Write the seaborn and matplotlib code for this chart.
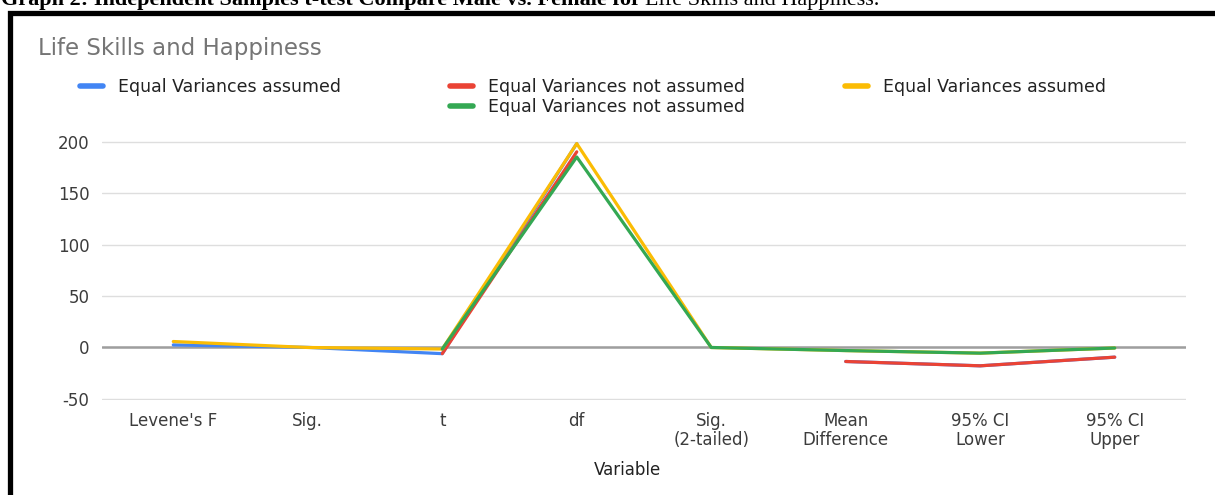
import numpy as np
import pandas as pd
import seaborn as sns
import matplotlib.pyplot as plt
from matplotlib.lines import Line2D
from matplotlib.patches import Rectangle

# columns of the SPSS t-test table
variables = ["Levene's F", "Sig.", "t", "df", "Sig.\n(2-tailed)",
             "Mean\nDifference", "95% CI\nLower", "95% CI\nUpper"]
series_names = ['Equal Variances assumed', 'Equal Variances not assumed',
                'Equal Variances assumed', 'Equal Variances not assumed']
life_eva = [2.5, 0.1, -6.0, 198, np.nan, -13.6, -17.8, -9.4]
life_evna = [np.nan, np.nan, -6.0, 190, np.nan, -13.6, -17.8, -9.4]
happy_eva = [5.8, 0.0, -1.5, 198, 0.0, -3.0, -5.5, -0.5]
happy_evna = [np.nan, np.nan, -1.5, 185, 0.0, -3.0, -5.5, -0.5]
colors = ['#4285F4', '#EA4335', '#FBBC04', '#34A853']
yticks = [-50, 0, 50, 100, 150, 200]

W, H = 1215, 495
sns.set_style('white')
plt.rcParams['font.family'] = ['DejaVu Sans']
plt.rcParams['axes.unicode_minus'] = False

fig = plt.figure(figsize=(W / 100, H / 100), dpi=100)
ax = fig.add_axes([102 / W, 1 - 400 / H, (1186 - 102) / W, (400 - 140.5) / H])


def to_frame(vals):
    vals = np.array(vals, dtype=float)
    seg = np.cumsum(np.isnan(vals))
    d = pd.DataFrame({'pos': np.arange(len(vals)), 'val': vals, 'seg': seg})
    return d.dropna()


for vals, c in zip([life_eva, life_evna, happy_eva, happy_evna], colors):
    sns.lineplot(data=to_frame(vals), x='pos', y='val', units='seg', estimator=None,
                 color=c, lw=2.3, ax=ax, legend=False, zorder=3)

ax.axhline(0, color='#9e9e9e', lw=1.8, zorder=2)
ax.grid(axis='y', color='#dedede', lw=1)
ax.set_axisbelow(True)
for s in ax.spines.values():
    s.set_visible(False)

ax.set_xlim(-0.53, len(variables) - 1 + 0.53)
ax.set_ylim(-51, 201)
ax.set_yticks(yticks)
ax.set_xticks(range(len(variables)))
ax.set_xticklabels(variables, linespacing=1.05, va='top')
ax.tick_params(axis='both', length=0, labelsize=12, labelcolor='#3c3c3c')
ax.tick_params(axis='y', pad=9)
ax.tick_params(axis='x', pad=9)
ax.set_ylabel('')
ax.set_xlabel('Variable', fontsize=12, color='#222222')
ax.xaxis.set_label_coords((627 - 102) / (1186 - 102), -(470 - 400) / (400 - 140.5))
ax.xaxis.label.set_va('center')

# chart title
fig.text(38 / W, 1 - 48 / H, 'Life Skills and Happiness', fontsize=16.5,
         color='#757575', va='center', ha='left')

# legend laid out in three blocks like the reference
blocks = [([0], 80), ([1, 3], 450), ([2], 845)]
for idx, xpx in blocks:
    handles = [Line2D([], [], color=colors[i], lw=4) for i in idx]
    labels = [series_names[i] for i in idx]
    leg = fig.legend(handles, labels, loc='upper left',
                     bbox_to_anchor=(xpx / W, 1 - 78 / H), frameon=False,
                     borderpad=0, borderaxespad=0, fontsize=12.5,
                     handlelength=1.3, handletextpad=0.9, labelspacing=0.12)
    for t in leg.get_texts():
        t.set_color('#222222')

# black document frame around the chart
fig.patches.append(Rectangle((10.5 / W, -0.1), 1.2, 1 - 12.5 / H + 0.1,
                             transform=fig.transFigure, fill=False,
                             edgecolor='black', lw=3.8))

# document caption, cut off at the top edge like the source page
cap1 = fig.text(1 / W, 1 - 5.5 / H,
                'Graph 2: Independent Samples t-test Compare Male vs. Female for',
                fontsize=16, fontweight='bold', family='Liberation Serif',
                va='baseline', ha='left', color='black')
fig.canvas.draw()
bb = cap1.get_window_extent()
fig.text((bb.x1 + 4) / W, 1 - 5.5 / H, 'Life Skills and Happiness.',
         fontsize=16, family='Liberation Serif', va='baseline', ha='left', color='black')

fig.savefig('out.png', dpi=100)
